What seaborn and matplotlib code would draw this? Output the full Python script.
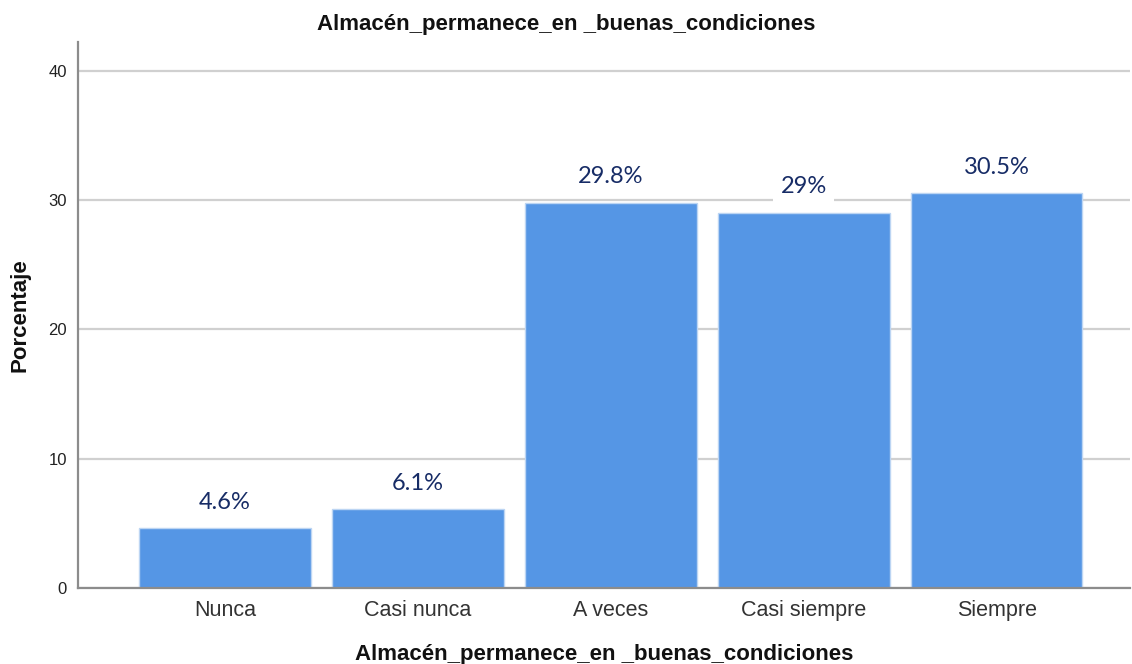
import matplotlib
matplotlib.use("Agg")
import matplotlib.pyplot as plt
import seaborn as sns
import pandas as pd

categories = ["Nunca", "Casi nunca", "A veces", "Casi siempre", "Siempre"]
percentages = [4.6, 6.1, 29.8, 29.0, 30.5]
value_labels = ["4.6%", "6.1%", "29.8%", "29%", "30.5%"]
y_ticks = [0, 10, 20, 30, 40]
title = "Almacén_permanece_en _buenas_condiciones"

sns.set_theme(style="white")
plt.rcParams["font.family"] = ["Liberation Sans", "DejaVu Sans"]

df = pd.DataFrame({"cat": categories, "pct": percentages})

fig = plt.figure(figsize=(11.32, 6.64), dpi=100)
ax = fig.add_axes([0.069, 0.1145, 0.929, 0.822])

sns.barplot(data=df, x="cat", y="pct", order=categories, color="#5596E5",
            saturation=1, width=0.89, edgecolor="#BCD5F3", linewidth=1.0,
            ax=ax, zorder=2)

ax.set_ylim(0, 42.2)
ax.set_xlim(-0.76, 4.69)
ax.set_yticks(y_ticks)
ax.yaxis.grid(True, color="#D0D0D0", linewidth=1.6, zorder=0)
ax.xaxis.grid(False)
ax.set_axisbelow(True)

for side in ["top", "right"]:
    ax.spines[side].set_visible(False)
for side in ["left", "bottom"]:
    ax.spines[side].set_color("#8C8C8C")
    ax.spines[side].set_linewidth(1.6)

ax.tick_params(axis="y", length=0, pad=8, labelsize=12, labelcolor="#222222")
ax.tick_params(axis="x", length=0, pad=9, labelsize=15.5, labelcolor="#333333")

# value labels sit on a white box that masks the gridline behind them
for i, (v, lab) in enumerate(zip(percentages, value_labels)):
    ax.annotate(lab, xy=(i, v), xytext=(0, 14), textcoords="offset points",
                ha="center", va="baseline", fontsize=17, color="#172C66",
                family=["Lato", "DejaVu Sans"], zorder=3,
                bbox=dict(boxstyle="square,pad=0.3", facecolor="white",
                          edgecolor="none"))

ax.set_xlabel(title, fontsize=16, fontweight="bold", labelpad=16, color="#111111")
ax.set_ylabel("Porcentaje", fontsize=16, fontweight="bold", color="#111111")
ax.yaxis.set_label_coords(-0.045, 0.5)
fig.text(0.5, 0.963, title, ha="center", va="center", fontsize=16,
         fontweight="bold", color="#111111")

fig.savefig("out.png", dpi=100, facecolor="white")
